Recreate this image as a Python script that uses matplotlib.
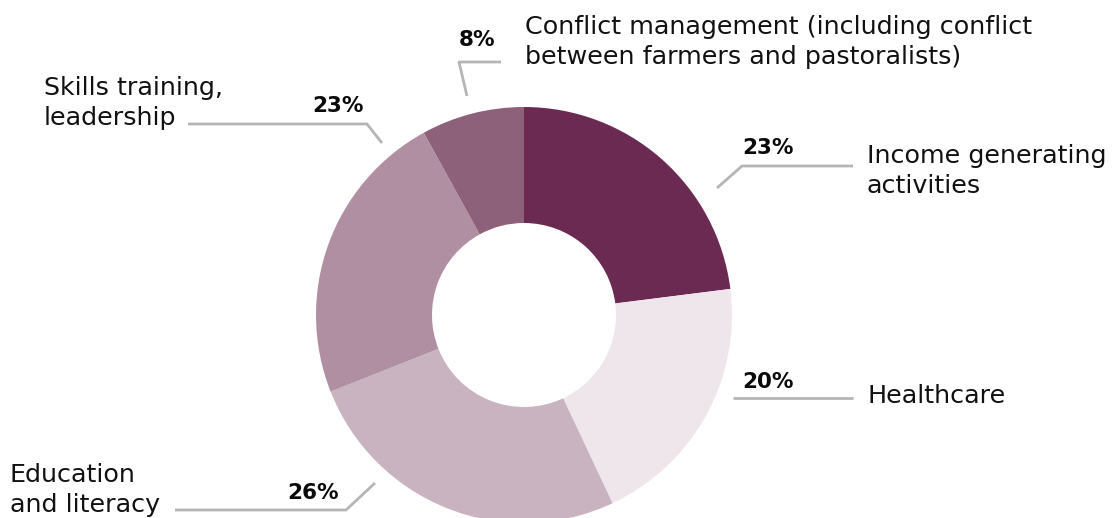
import matplotlib.pyplot as plt

# Share of activities (percent), clockwise from 12 o'clock
categories = [
    "Income generating\nactivities",
    "Healthcare",
    "Education\nand literacy",
    "Skills training,\nleadership",
    "Conflict management (including conflict\nbetween farmers and pastoralists)",
]
shares = [23, 20, 26, 23, 8]
colors = ["#6b2a52", "#efe6eb", "#c9b3c1", "#b08fa3", "#8d6179"]

W, H = 1116, 518
plt.rcParams["font.family"] = ["DejaVu Sans"]

fig = plt.figure(figsize=(W / 100, H / 100), dpi=100)
ax = fig.add_axes([0, 0, 1, 1])


def y(v):
    # pixel row (from top) -> data y
    return H - v


cx, cy, r_out, r_in = 524, 315, 208, 92
ax.pie(shares, colors=colors, startangle=90, counterclock=False,
       center=(cx, y(cy)), radius=r_out,
       wedgeprops=dict(width=r_out - r_in, linewidth=0), frame=True)
ax.set_xlim(0, W)
ax.set_ylim(0, H)
ax.set_aspect("equal")
ax.axis("off")

line_kw = dict(color="#b5b5b5", lw=2, solid_capstyle="butt")
txt_kw = dict(fontsize=18.3, color="#111111", linespacing=1.33)
pct_kw = dict(fontsize=15.5, fontweight="bold", color="#0a0a0a", ha="center")

# leader lines, value labels, category labels
leaders = [
    [(717, 188), (742, 166), (853, 166)],
    [(733, 398), (853, 398)],
    [(375, 483), (346, 510), (175, 510)],
    [(382, 143), (367, 124), (188, 124)],
    [(467, 96), (459, 62), (501, 62)],
]
pct_pos = [(768, 148), (768, 382), (313, 493), (338, 106), (477, 40)]
label_pos = [(867, 171), (867, 396), (10, 490), (44, 103), (525, 42)]

for pts, (px_, py_), (lx, ly), share, name in zip(
        leaders, pct_pos, label_pos, shares, categories):
    ax.plot([p[0] for p in pts], [y(p[1]) for p in pts], **line_kw)
    ax.text(px_, y(py_), f"{share}%", va="center", **pct_kw)
    ax.text(lx, y(ly), name, ha="left", va="center", **txt_kw)

fig.savefig("out.png", dpi=100)
